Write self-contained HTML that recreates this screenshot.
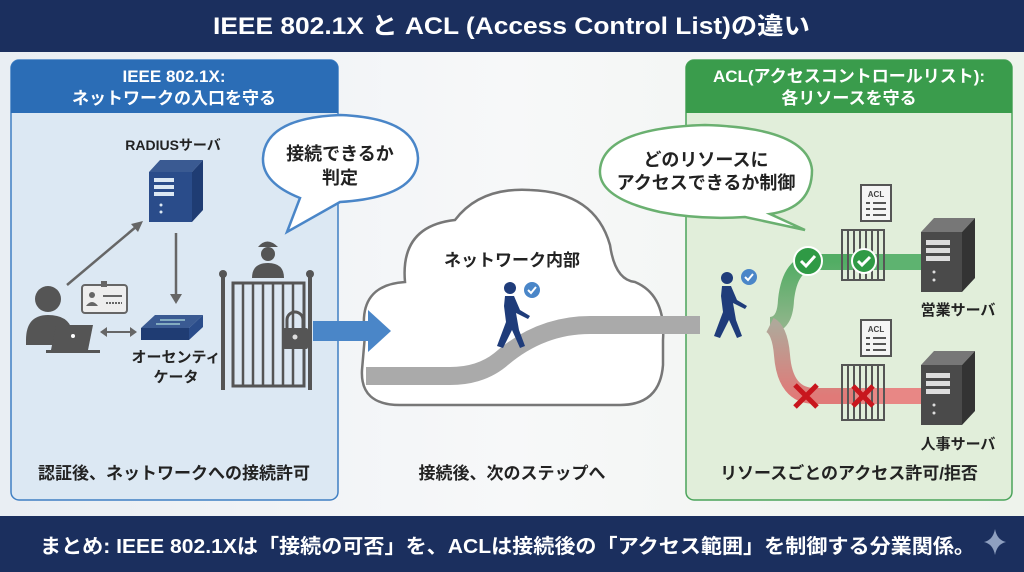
<!DOCTYPE html>
<html><head><meta charset="utf-8"><style>
html,body{margin:0;padding:0;width:1024px;height:572px;overflow:hidden;background:#f2f4f6}
svg{display:block}
text{font-family:"Liberation Sans","Noto Sans CJK JP",sans-serif;font-weight:bold}
</style></head><body>
<svg width="1024" height="572" viewBox="0 0 1024 572" xmlns="http://www.w3.org/2000/svg">
<defs>
<linearGradient id="bg" x1="0" x2="1"><stop offset="0" stop-color="#e9eef3"/><stop offset="0.5" stop-color="#f7f8f9"/><stop offset="1" stop-color="#eef3ec"/></linearGradient>
<linearGradient id="gpath" x1="0" x2="1"><stop offset="0" stop-color="#a9a9a9"/><stop offset="1" stop-color="#7cba78"/></linearGradient>
<linearGradient id="gup" x1="0" y1="1" x2="0" y2="0"><stop offset="0" stop-color="#8fb58a"/><stop offset="1" stop-color="#52ad64"/></linearGradient>
<linearGradient id="gdn" x1="0" y1="0" x2="0" y2="1"><stop offset="0" stop-color="#b0a89a"/><stop offset="1" stop-color="#e07a78"/></linearGradient>
</defs>
<rect width="1024" height="572" fill="url(#bg)"/>
<!-- title -->
<rect x="0" y="0" width="1024" height="52" fill="#1b2f5e"/>
<text x="213" y="34" font-size="24" fill="#fff" textLength="597" lengthAdjust="spacingAndGlyphs">IEEE 802.1X と ACL (Access Control List)の違い</text>

<!-- left panel -->
<rect x="11" y="60" width="327" height="440" rx="8" fill="#dce8f3" stroke="#3f7fc3" stroke-width="1.5"/>
<path d="M11 113 V68 a8 8 0 0 1 8 -8 H330 a8 8 0 0 1 8 8 V113 Z" fill="#2b6db6"/>
<text x="174" y="82" font-size="17" fill="#fff" text-anchor="middle">IEEE 802.1X:</text>
<text x="174" y="104" font-size="17" fill="#fff" text-anchor="middle">ネットワークの入口を守る</text>

<!-- right panel -->
<rect x="686" y="60" width="326" height="440" rx="8" fill="#e1eeda" stroke="#4aa45a" stroke-width="1.5"/>
<path d="M686 113 V68 a8 8 0 0 1 8 -8 H1004 a8 8 0 0 1 8 8 V113 Z" fill="#3a9c4c"/>
<text x="849" y="82" font-size="17" fill="#fff" text-anchor="middle">ACL(アクセスコントロールリスト):</text>
<text x="849" y="104" font-size="17" fill="#fff" text-anchor="middle">各リソースを守る</text>

<!-- RADIUS server -->
<text x="173" y="150" font-size="14" fill="#222" text-anchor="middle">RADIUSサーバ</text>
<path d="M149 172 L160 160 H203 L192 172 Z" fill="#3a5a92"/>
<path d="M192 172 L203 160 V210 L192 222 Z" fill="#1f3c73"/>
<rect x="149" y="172" width="43" height="50" fill="#2a4c8a"/>
<rect x="154" y="178" width="20" height="4" fill="#dce8f3"/><rect x="154" y="185" width="20" height="4" fill="#dce8f3"/><rect x="154" y="192" width="20" height="4" fill="#dce8f3"/>
<circle cx="161" cy="205" r="1.5" fill="#dce8f3"/><circle cx="161" cy="212" r="1.5" fill="#dce8f3"/>
<!-- arrows -->
<line x1="67" y1="285" x2="137" y2="226" stroke="#666" stroke-width="2.5"/>
<path d="M143 221 L131 224 L138 232 Z" fill="#666"/>
<line x1="176" y1="233" x2="176" y2="296" stroke="#666" stroke-width="2.5"/>
<path d="M176 304 L170 294 H182 Z" fill="#666"/>
<line x1="105" y1="332" x2="132" y2="332" stroke="#666" stroke-width="2"/>
<path d="M100 332 L107 327 V337 Z M137 332 L130 327 V337 Z" fill="#666"/>
<!-- user -->
<circle cx="48" cy="299" r="13" fill="#555"/>
<path d="M26 340 Q26 315 48 315 Q68 315 72 330 L60 345 H26 Z" fill="#555"/>
<path d="M56 325 H93 L88 350 H51 Z" fill="#555"/><circle cx="73" cy="336" r="2" fill="#fff"/>
<path d="M46 350 H100 V353 H46 Z" fill="#555"/>
<!-- ID card -->
<rect x="82" y="285" width="45" height="28" rx="3" fill="#eee" stroke="#666" stroke-width="2"/>
<rect x="101" y="281" width="6" height="6" fill="#666"/>
<circle cx="92" cy="295" r="3" fill="#666"/><path d="M86 306 Q92 298 98 306 Z" fill="#666"/>
<line x1="103" y1="296" x2="122" y2="296" stroke="#666" stroke-width="2"/>
<line x1="106" y1="303" x2="122" y2="303" stroke="#666" stroke-width="2" stroke-dasharray="2 1"/>
<!-- switch -->
<path d="M141 328 L155 315 H203 L189 328 Z" fill="#3a5a92"/>
<path d="M141 328 H189 V340 H141 Z" fill="#1f3c73"/><path d="M189 328 L203 315 V327 L189 340Z" fill="#2a4c8a"/>
<path d="M160 320 H185 M156 324 H180" stroke="#cfe" stroke-width="1"/>
<text x="176" y="362" font-size="15" fill="#222" text-anchor="middle">オーセンティ</text>
<text x="176" y="382" font-size="15" fill="#222" text-anchor="middle">ケータ</text>
<!-- gate -->
<rect x="221" y="276" width="4" height="114" fill="#555"/><rect x="308" y="276" width="4" height="114" fill="#555"/>
<circle cx="223" cy="274" r="4" fill="#555"/><circle cx="310" cy="274" r="4" fill="#555"/>
<rect x="233" y="283" width="71" height="103" fill="none" stroke="#555" stroke-width="3"/>
<g stroke="#555" stroke-width="2.5"><line x1="243" y1="284" x2="243" y2="386"/><line x1="253" y1="284" x2="253" y2="386"/><line x1="263" y1="284" x2="263" y2="386"/><line x1="273" y1="284" x2="273" y2="386"/><line x1="283" y1="284" x2="283" y2="386"/><line x1="293" y1="284" x2="293" y2="386"/></g>
<rect x="283" y="328" width="25" height="21" rx="2" fill="#555"/><path d="M287 328 V320 a8 8 0 0 1 16 0 V328" fill="none" stroke="#555" stroke-width="3"/><circle cx="295" cy="337" r="2.5" fill="#ddd"/>
<!-- guard -->
<path d="M258 247 Q267 236 278 247 Z" fill="#555"/><circle cx="268" cy="254" r="7" fill="#555"/>
<path d="M252 278 Q252 263 268 263 Q284 263 284 278 Z" fill="#555"/>
<!-- left bubble -->
<path d="M300 198 Q262 183 263 158 Q265 118 340 115 Q416 118 418 158 Q418 197 340 202 L287 232 Z" fill="#fff" stroke="#4a86c8" stroke-width="2.5"/>
<text x="340" y="160" font-size="18" fill="#222" text-anchor="middle">接続できるか</text>
<text x="340" y="184" font-size="18" fill="#222" text-anchor="middle">判定</text>
<text x="174" y="479" font-size="17" fill="#222" text-anchor="middle">認証後、ネットワークへの接続許可</text>

<!-- cloud -->
<path d="M365 335 Q357 285 405 282 Q400 226 455 220 Q480 187 530 190 Q595 192 610 245 Q615 280 635 282 Q666 295 663 340 V365 Q660 405 620 405 H400 Q360 405 362 370 Z" fill="#fff" stroke="#777" stroke-width="2.5"/>
<text x="512" y="266" font-size="17" fill="#222" text-anchor="middle">ネットワーク内部</text>
<!-- blue arrow -->
<rect x="313" y="321" width="55" height="20" fill="#4a86c8"/><path d="M368 310 L391 331 L368 352 Z" fill="#4a86c8"/>
<!-- path -->
<path d="M366 376 H450 Q480 376 500 360 Q540 325 590 325 H700" fill="none" stroke="#aaa" stroke-width="18"/>
<path d="M660 325 H770" fill="none" stroke="url(#gpath)" stroke-width="18"/>
<path d="M770 325 Q785 325 786 300 Q790 262 815 262 H925" fill="none" stroke="url(#gup)" stroke-width="16"/>
<path d="M770 325 Q780 330 782 355 Q785 396 815 396 H925" fill="none" stroke="url(#gdn)" stroke-width="16"/>
<path d="M855 262 H925" stroke="#5eb370" stroke-width="16"/><path d="M855 396 H925" stroke="#e88785" stroke-width="16"/>
<!-- walker in cloud -->
<g fill="#1f3c7a"><circle cx="510" cy="288" r="6"/><path d="M505 296 L514 296 L520 310 L530 316 L528 319 L516 313 L519 330 L525 346 L520 348 L512 330 L503 348 L497 346 L506 322 L504 306 Z"/></g>
<circle cx="532" cy="290" r="8" fill="#4a86c8"/><path d="M528 290 L531 293 L536 287" stroke="#fff" stroke-width="2" fill="none"/>
<!-- walker right -->
<g fill="#1f3c7a"><circle cx="727" cy="278" r="6"/><path d="M722 286 L731 286 L737 300 L747 306 L745 309 L733 303 L736 320 L742 336 L737 338 L729 320 L720 338 L714 336 L723 312 L721 296 Z"/></g>
<circle cx="749" cy="277" r="8" fill="#4a86c8"/><path d="M745 277 L748 280 L753 274" stroke="#fff" stroke-width="2" fill="none"/>
<!-- right bubble -->
<path d="M660 212 Q598 198 600 170 Q603 128 705 125 Q808 128 812 170 Q812 208 770 214 L805 230 L745 217 Q700 220 660 212 Z" fill="#fff" stroke="#6ab070" stroke-width="2.5"/>
<text x="706" y="166" font-size="18" fill="#222" text-anchor="middle">どのリソースに</text>
<text x="706" y="189" font-size="18" fill="#222" text-anchor="middle">アクセスできるか制御</text>
<!-- checks -->
<circle cx="808" cy="261" r="14" fill="#2f9a45" stroke="#fff" stroke-width="2"/><path d="M801 261 L806 266 L815 256" stroke="#fff" stroke-width="3" fill="none"/>
<!-- gates right -->
<g stroke="#555" stroke-width="2" fill="none">
<rect x="842" y="230" width="42" height="50"/><path d="M848 230 V280 M854 230 V280 M860 230 V280 M866 230 V280 M872 230 V280 M878 230 V280"/>
<rect x="842" y="365" width="42" height="55"/><path d="M848 365 V420 M854 365 V420 M860 365 V420 M866 365 V420 M872 365 V420 M878 365 V420"/>
</g>
<circle cx="864" cy="261" r="12" fill="#2f9a45" stroke="#fff" stroke-width="2"/><path d="M858 261 L862 265 L870 257" stroke="#fff" stroke-width="3" fill="none"/>
<!-- ACL docs -->
<g><rect x="861" y="185" width="30" height="36" fill="#f5f5f5" stroke="#555" stroke-width="2"/><text x="876" y="197" font-size="8" fill="#444" text-anchor="middle">ACL</text><path d="M866 203 H870 M873 203 H886 M866 209 H870 M873 209 H886 M866 215 H870 M873 215 H886" stroke="#555" stroke-width="2"/></g>
<g><rect x="861" y="320" width="30" height="36" fill="#f5f5f5" stroke="#555" stroke-width="2"/><text x="876" y="332" font-size="8" fill="#444" text-anchor="middle">ACL</text><path d="M866 338 H870 M873 338 H886 M866 344 H870 M873 344 H886 M866 350 H870 M873 350 H886" stroke="#555" stroke-width="2"/></g>
<!-- X marks -->
<path d="M795 385 L817 407 M817 385 L795 407" stroke="#c8161d" stroke-width="5"/>
<path d="M853 386 L873 406 M873 386 L853 406" stroke="#c8161d" stroke-width="5"/>
<!-- servers -->
<g><path d="M921 232 L934 218 H975 L962 232 Z" fill="#777"/><path d="M962 232 L975 218 V278 L962 292Z" fill="#333"/><rect x="921" y="232" width="41" height="60" fill="#4a4a4a"/><rect x="926" y="240" width="24" height="5" fill="#ddd"/><rect x="926" y="248" width="24" height="5" fill="#ddd"/><rect x="926" y="256" width="24" height="5" fill="#ddd"/><circle cx="934" cy="272" r="1.5" fill="#ddd"/><circle cx="934" cy="280" r="1.5" fill="#ddd"/></g>
<g><path d="M921 365 L934 351 H975 L962 365 Z" fill="#777"/><path d="M962 365 L975 351 V411 L962 425Z" fill="#333"/><rect x="921" y="365" width="41" height="60" fill="#4a4a4a"/><rect x="926" y="373" width="24" height="5" fill="#ddd"/><rect x="926" y="381" width="24" height="5" fill="#ddd"/><rect x="926" y="389" width="24" height="5" fill="#ddd"/><circle cx="934" cy="405" r="1.5" fill="#ddd"/><circle cx="934" cy="413" r="1.5" fill="#ddd"/></g>
<text x="958" y="315" font-size="15" fill="#222" text-anchor="middle">営業サーバ</text>
<text x="958" y="449" font-size="15" fill="#222" text-anchor="middle">人事サーバ</text>
<text x="849" y="479" font-size="17" fill="#222" text-anchor="middle">リソースごとのアクセス許可/拒否</text>
<text x="512" y="479" font-size="17" fill="#222" text-anchor="middle">接続後、次のステップへ</text>

<!-- bottom bar -->
<rect x="0" y="516" width="1024" height="56" fill="#1b2f5e"/>
<text x="40" y="553" font-size="20" fill="#fff" textLength="935" lengthAdjust="spacingAndGlyphs">まとめ: IEEE 802.1Xは「接続の可否」を、ACLは接続後の「アクセス範囲」を制御する分業関係。</text>
<path d="M995 529 Q997 540 1006 542 Q997 544 995 555 Q993 544 984 542 Q993 540 995 529 Z" fill="#8fa0c0"/>
</svg>
</body></html>
